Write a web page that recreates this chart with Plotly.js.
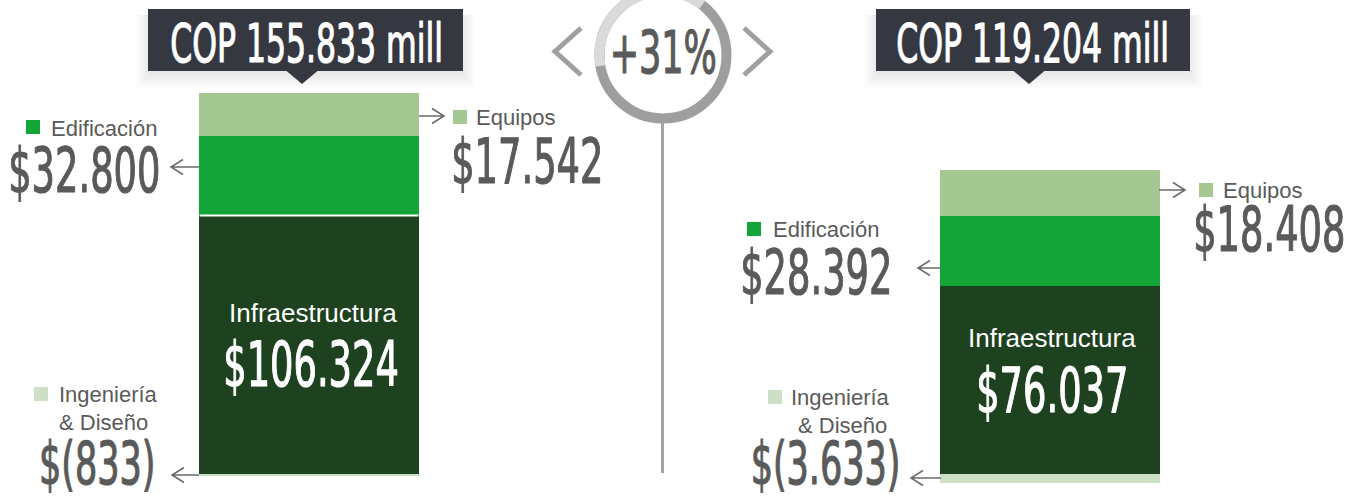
<!DOCTYPE html>
<html>
<head>
<meta charset="utf-8">
<script src="https://cdn.plot.ly/plotly-3.0.1.min.js"></script>
<style>
  html, body { margin: 0; padding: 0; background: #ffffff; }
  #chart { width: 1363px; height: 497px; }
</style>
</head>
<body>
<div id="chart"></div>
<script>
// ---------- DATA (millones de COP) ----------
const segments = ['Ingeniería & Diseño', 'Infraestructura', 'Edificación', 'Equipos'];
const valuesLeft = [-833, 106324, 32800, 17542];
const valuesRight = [-3633, 76037, 28392, 18408];
const totalLeft = valuesLeft.reduce((a, b) => a + b, 0);    // 155.833
const totalRight = valuesRight.reduce((a, b) => a + b, 0);  // 119.204
const growthPct = Math.round((totalLeft / totalRight - 1) * 100); // +31

// ---------- STYLE ----------
const segColors = ['#cddfc5', '#1e4120', '#13a538', '#a5c792'];
const W = 1363, H = 497;
const greyText = '#5a5a5a';
const condensed = 'DejaVu Sans Condensed';
const sans = 'Liberation Sans, Arial, sans-serif';
const barW = 0.296;

function thousands(n) { return String(n).replace(/\B(?=(\d{3})+(?!\d))/g, '.'); }
function money(v) { return v < 0 ? '$(' + thousands(-v) + ')' : '$' + thousands(v); }
const PX = x => x / W;
const PY = y => 1 - y / H;
function P(cmds) {
  return cmds.map(c => c[0] === 'Z' ? 'Z' : c[0] + ' ' + PX(c[1]).toFixed(5) + ',' + PY(c[2]).toFixed(5)).join(' ');
}

// ---------- TRACES ----------
const traces = [];
segments.forEach((s, i) => {
  traces.push({ type: 'bar', x: [0], y: [valuesLeft[i]], width: barW, name: s,
    marker: { color: segColors[i], line: { width: 0 } }, xaxis: 'x', yaxis: 'y',
    hoverinfo: 'skip', showlegend: false });
  traces.push({ type: 'bar', x: [0], y: [valuesRight[i]], width: barW, name: s,
    marker: { color: segColors[i], line: { width: 0 } }, xaxis: 'x2', yaxis: 'y2',
    hoverinfo: 'skip', showlegend: false });
});

// ---------- SHAPES ----------
const shapes = [];
function box(x0, x1, tip) {
  const y0 = 9, y1 = 71;
  for (let k = 1; k <= 7; k++) {
    shapes.push({ type: 'rect', xref: 'paper', yref: 'paper', layer: 'below',
      x0: PX(x0 - 2 * k + 2), x1: PX(x1 + 2 * k - 2), y0: PY(y1 + 3 + 2 * k), y1: PY(y0 + 6),
      fillcolor: 'rgba(0,0,0,0.012)', line: { width: 0 } });
  }
  shapes.push({ type: 'rect', xref: 'paper', yref: 'paper', x0: PX(x0), x1: PX(x1), y0: PY(y1), y1: PY(y0),
    fillcolor: '#363841', line: { width: 0 } });
  shapes.push({ type: 'path', xref: 'paper', yref: 'paper',
    path: P([['M', tip - 16, y1 - 0.5], ['L', tip + 16, y1 - 0.5], ['L', tip, 84], ['Z']]),
    fillcolor: '#363841', line: { width: 0 } });
}
box(148, 463, 302);
box(876, 1190, 1029);

// ring
const cx = 663, cy = 55, r = 63.5;
shapes.push({ type: 'circle', xref: 'paper', yref: 'paper',
  x0: PX(cx - r), x1: PX(cx + r), y0: PY(cy + r), y1: PY(cy - r),
  line: { color: '#9e9e9e', width: 10 }, fillcolor: 'rgba(0,0,0,0)' });
const arc = [];
for (let a = 52; a <= 191; a += 2) {
  const rad = a * Math.PI / 180;
  arc.push([arc.length ? 'L' : 'M', cx + r * Math.cos(rad), cy - r * Math.sin(rad)]);
}
shapes.push({ type: 'path', xref: 'paper', yref: 'paper', path: P(arc),
  line: { color: '#dadada', width: 10 } });

// chevrons
shapes.push({ type: 'path', xref: 'paper', yref: 'paper',
  path: P([['M', 581, 28], ['L', 555, 51.5], ['L', 581, 75]]), line: { color: '#a0a0a0', width: 5 } });
shapes.push({ type: 'path', xref: 'paper', yref: 'paper',
  path: P([['M', 744, 28], ['L', 770, 51.5], ['L', 744, 75]]), line: { color: '#a0a0a0', width: 5 } });

// vertical divider
shapes.push({ type: 'line', xref: 'paper', yref: 'paper', x0: PX(662.5), x1: PX(662.5), y0: PY(123), y1: PY(473),
  line: { color: '#a4a4a4', width: 3 } });

// white separator between Infraestructura and Edificación (left bar)
shapes.push({ type: 'line', xref: 'x', yref: 'y', x0: -barW / 2, x1: barW / 2,
  y0: valuesLeft[1], y1: valuesLeft[1], line: { color: '#ffffff', width: 2 } });

// arrows
function arrow(xFrom, xTo, y) {
  const d = xTo < xFrom ? 1 : -1;
  shapes.push({ type: 'path', xref: 'paper', yref: 'paper',
    path: P([['M', xFrom, y], ['L', xTo, y], ['M', xTo + d * 12, y - 7.5], ['L', xTo, y], ['L', xTo + d * 12, y + 7.5]]),
    line: { color: '#6a6a6a', width: 1.5 } });
}
arrow(199, 171, 167);
arrow(419, 444, 116);
arrow(199, 172, 475);
arrow(1159, 1185, 190);
arrow(941, 918, 268);
arrow(941, 911, 478);

// legend squares
function sq(x0, y0, color) {
  shapes.push({ type: 'rect', xref: 'paper', yref: 'paper', x0: PX(x0), x1: PX(x0 + 14), y0: PY(y0 + 14), y1: PY(y0),
    fillcolor: color, line: { width: 0 } });
}
sq(26, 120, segColors[2]);
sq(453, 110, segColors[3]);
sq(34, 387, segColors[0]);
sq(1199, 183, segColors[3]);
sq(747, 222, segColors[2]);
sq(768, 390, segColors[0]);

// ---------- ANNOTATIONS ----------
const ann = [];
function txt(text, x, y, opts) {
  ann.push(Object.assign({ text: text, xref: 'paper', yref: 'paper', x: PX(x), y: PY(y),
    xanchor: 'center', yanchor: 'middle', showarrow: false, borderpad: 0,
    font: { family: sans, size: 22, color: greyText } }, opts || {}));
}
const segLine1 = segments[0].split(' & ')[0];
const segLine2 = '& ' + segments[0].split(' & ')[1];
const big = { family: condensed, size: 62, color: greyText };
const bigNeg = { family: condensed, size: 59, color: greyText };
const lbl = { family: sans, size: 22, color: greyText };

// top boxes
txt('COP ' + thousands(totalLeft) + ' mill', 306, 43, { font: { family: condensed, size: 53, color: '#ffffff' } });
txt('COP ' + thousands(totalRight) + ' mill', 1032, 43, { font: { family: condensed, size: 53, color: '#ffffff' } });
txt((growthPct >= 0 ? '+' : '') + growthPct + '%', 663, 52, { font: { family: condensed, size: 59, color: greyText } });

// left bar labels
txt(segments[2], 50, 128, { xanchor: 'left', font: lbl });
txt(money(valuesLeft[2]), 84, 170, { font: big });
txt(segments[3], 475, 117, { xanchor: 'left', font: lbl });
txt(money(valuesLeft[3]), 527, 161, { font: big });
txt(segLine1, 58, 394, { xanchor: 'left', font: lbl });
txt(segLine2, 58, 422, { xanchor: 'left', font: lbl });
txt(money(valuesLeft[0]), 97, 463, { font: bigNeg });
txt(segments[1], 313, 313, { font: { family: sans, size: 26, color: '#ffffff' } });
txt(money(valuesLeft[1]), 311, 364, { font: { family: condensed, size: 62, color: '#ffffff' } });

// right bar labels
txt(segments[2], 772, 229, { xanchor: 'left', font: lbl });
txt(money(valuesRight[2]), 816, 272, { font: big });
txt(segments[3], 1222, 190, { xanchor: 'left', font: lbl });
txt(money(valuesRight[3]), 1269, 229, { font: big });
txt(segLine1, 790, 397, { xanchor: 'left', font: lbl });
txt(segLine2, 797, 425, { xanchor: 'left', font: lbl });
txt(money(valuesRight[0]), 825, 463, { font: bigNeg });
txt(segments[1], 1052, 338, { font: { family: sans, size: 26, color: '#ffffff' } });
txt(money(valuesRight[1]), 1052, 390, { font: { family: condensed, size: 62, color: '#ffffff' } });

// ---------- LAYOUT ----------
const hidden = { visible: false, fixedrange: true, showgrid: false, zeroline: false };
const layout = {
  width: W, height: H,
  margin: { l: 0, r: 0, t: 0, b: 0, pad: 0 },
  paper_bgcolor: '#ffffff', plot_bgcolor: 'rgba(0,0,0,0)',
  barmode: 'relative', bargap: 0,
  showlegend: false,
  xaxis: Object.assign({ domain: [0, 0.5], range: [-309 / 740, 372.5 / 740], anchor: 'y' }, hidden),
  yaxis: Object.assign({ domain: [0, 1], range: [-23 * 156666 / 381, 474 * 156666 / 381], anchor: 'x' }, hidden),
  xaxis2: Object.assign({ domain: [0.5, 1], range: [-368.5 / 740, 313 / 740], anchor: 'y2' }, hidden),
  yaxis2: Object.assign({ domain: [0, 1], range: [-23 * 122837 / 304, 474 * 122837 / 304], anchor: 'x2' }, hidden),
  shapes: shapes,
  annotations: ann
};

function condense() {
  document.querySelectorAll('.annotation-text').forEach(t => {
    const ff = (t.style.fontFamily || '') + (t.getAttribute('style') || '');
    if (ff.indexOf('Condensed') >= 0) {
      t.style.transformBox = 'fill-box';
      t.style.transformOrigin = 'center';
      t.style.transform = 'scaleX(0.66)';
      t.style.stroke = t.style.fill;
      t.style.strokeWidth = '1.2px';
      t.style.strokeLinejoin = 'round';
    }
  });
}
Plotly.newPlot('chart', traces, layout, { staticPlot: true, displayModeBar: false }).then(gd => {
  condense();
  gd.on('plotly_afterplot', condense);
});
</script>
</body>
</html>
